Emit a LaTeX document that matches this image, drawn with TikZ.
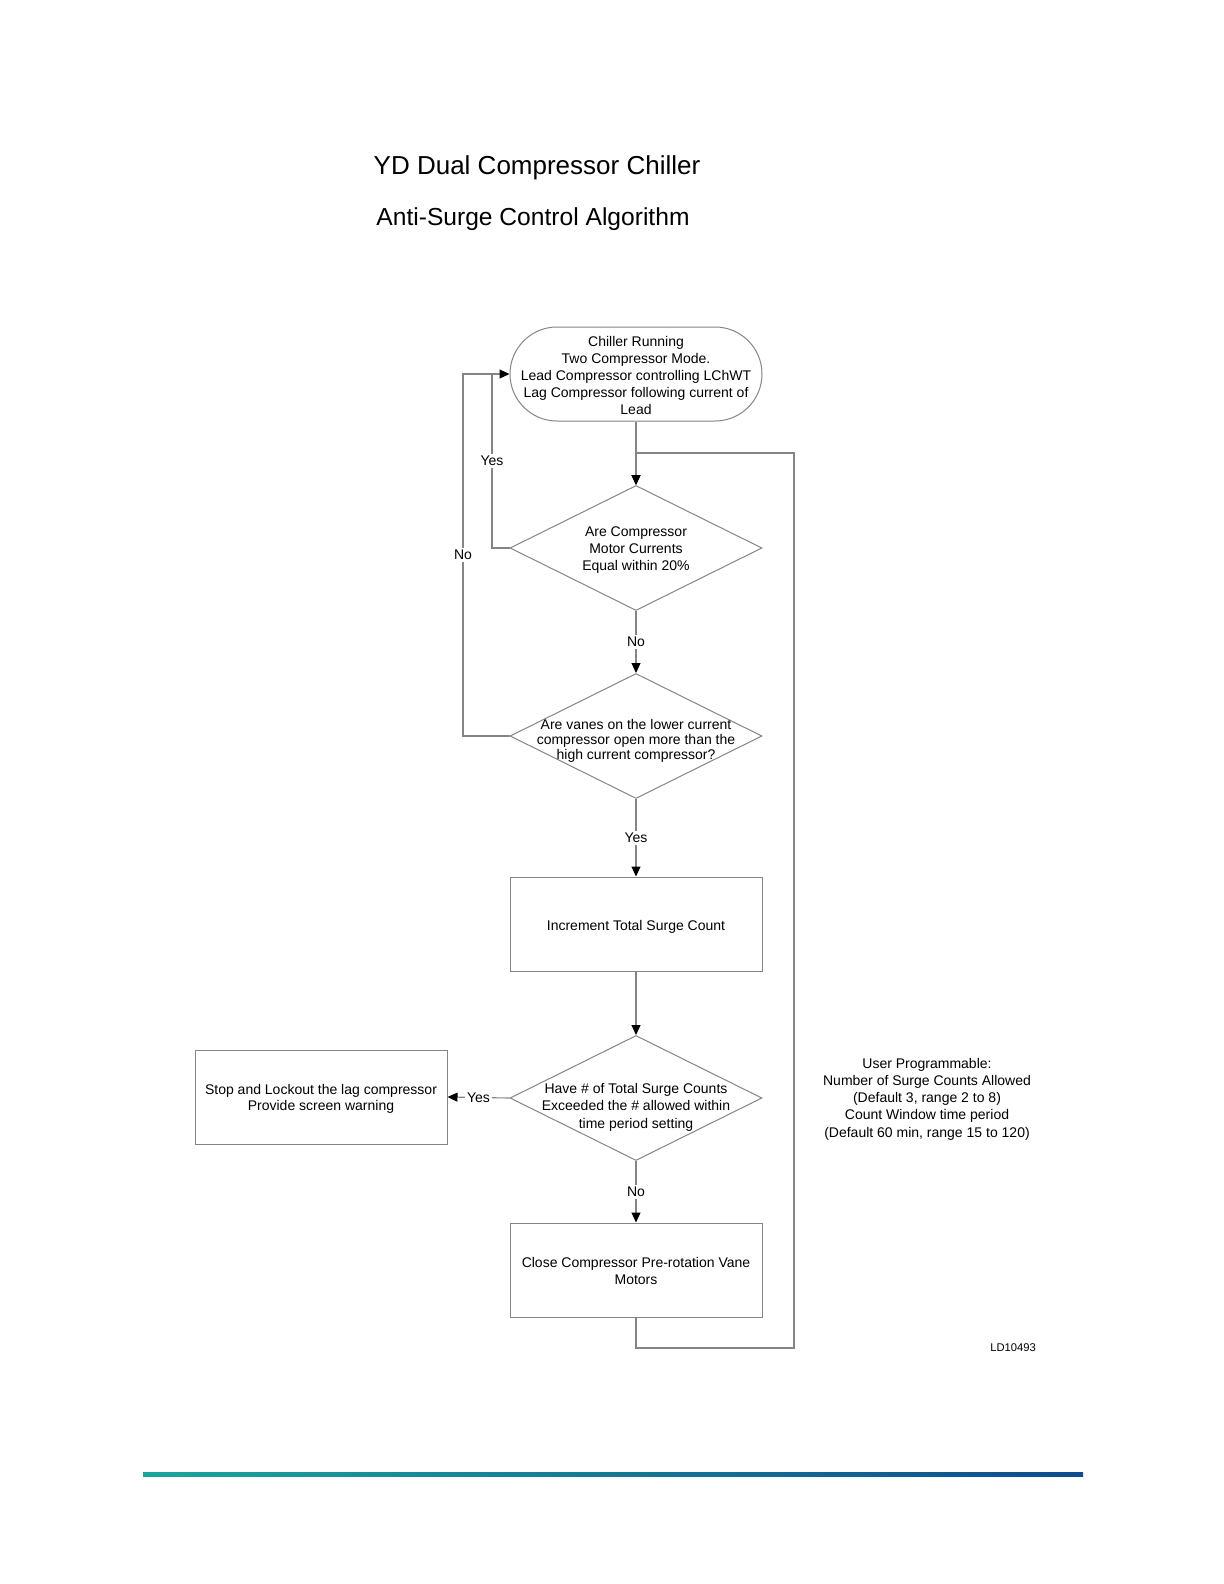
\documentclass[tikz,border=0pt]{standalone}
\usepackage{fontspec}
\setmainfont{Liberation Sans}
\usetikzlibrary{shapes.geometric,arrows.meta}
\definecolor{linegray}{HTML}{858585}
\definecolor{tealA}{HTML}{1AA59C}
\definecolor{blueB}{HTML}{0E4C8E}
\tikzset{
  base/.style={font=\fontsize{7}{8.5}\selectfont, align=center, text=black},
  procbox/.style={draw=linegray, line width=0.5pt, minimum width=126pt, minimum height=47pt, inner sep=0pt},
  termbox/.style={procbox, rounded corners=23.5pt},
  decbox/.style={draw=linegray, line width=0.5pt, diamond, minimum width=126pt, minimum height=62.5pt, inner sep=0pt},
  conn/.style={draw=linegray, line width=0.55pt},
  arr/.style={conn, -{Triangle[length=5pt,width=4.5pt,color=black]}},
  lbl/.style={base, fill=white, inner sep=1pt},
}
\begin{document}
\begin{tikzpicture}[x=0.5pt,y=-0.5pt]
\useasboundingbox (0,0) rectangle (1224,1584);
\fill[white] (0,0) rectangle (1224,1584);

% titles
\node[font=\fontsize{13}{15}\selectfont] (title1) at (537,168) {YD Dual Compressor Chiller};
\node[font=\fontsize{12.3}{15}\selectfont] (title2) at (533,219) {Anti-Surge Control Algorithm};

% shapes
\node[termbox] (t) at (636,374) {};
\node[base] (tt) at (636,375) {Chiller Running\\Two Compressor Mode.\\Lead Compressor controlling LChWT\\Lag Compressor following current of\\Lead};

\node[decbox] (d1) at (636,548) {};
\node[base] (d1t) at (636,550) {Are Compressor\\Motor Currents\\Equal within 20\%};

\node[decbox] (d2) at (636,736) {};
\node[base, font=\fontsize{7}{7.6}\selectfont] (d2t) at (636,741) {Are vanes on the lower current\\compressor open more than the\\high current compressor?};

\node[procbox] (r1) at (636,924) {};
\node[base] (r1t) at (636,927) {Increment Total Surge Count};

\node[decbox] (d3) at (636,1098) {};
\node[base, font=\fontsize{7}{8.8}\selectfont] (d3t) at (636,1107) {Have \# of Total Surge Counts\\Exceeded the \# allowed within\\time period setting};

\node[procbox] (s) at (321,1097) {};
\node[base, font=\fontsize{7}{8.2}\selectfont] (st) at (321,1099) {Stop and Lockout the lag compressor\\Provide screen warning};

\node[procbox] (r2) at (636,1270) {};
\node[base, font=\fontsize{7}{8.2}\selectfont] (r2t) at (636,1271) {Close Compressor Pre-rotation Vane\\Motors};

\node[base, font=\fontsize{7}{8.6}\selectfont] (note) at (927,1099) {User Programmable:\\Number of Surge Counts Allowed\\(Default 3, range 2 to 8)\\Count Window time period\\(Default 60 min, range 15 to 120)};
\node[font=\fontsize{5.6}{7}\selectfont] (ld) at (1013,1348) {LD10493};

% helper coordinates
\coordinate (yc) at (492,374);
\coordinate (yb) at (492,548);
\coordinate (nc) at (463,374);
\coordinate (nb) at (463,736);
\coordinate (rb) at (794,1348);
\coordinate (lb) at (636,1348);
\coordinate (rt) at (794,453);
\coordinate (lt) at (636,453);

% connectors
\draw[arr] (t.south) -- (d1.north);
\draw[arr] (d1.west) -- (yb) -- node[lbl] (yes1) {Yes} (yc) -- (t.west);
\draw[conn] (d2.west) -- (nb) -- node[lbl] (no1) {No} (nc) -- (yc);
\draw[arr] (d1.south) -- node[lbl] (no2) {No} (d2.north);
\draw[arr] (d2.south) -- node[lbl] (yes2) {Yes} (r1.north);
\draw[arr] (r1.south) -- (d3.north);
\draw[arr] (d3.west) -- node[lbl] (yes3) {Yes} (s.east);
\draw[arr] (d3.south) -- node[lbl] (no3) {No} (r2.north);
\draw[arr] (r2.south) -- (lb) -- (rb) -- (rt) -- (lt) -- (d1.north);

% bottom rule
\shade[left color=tealA, right color=blueB] (143,1472) rectangle (1083,1476);
\end{tikzpicture}
\end{document}
